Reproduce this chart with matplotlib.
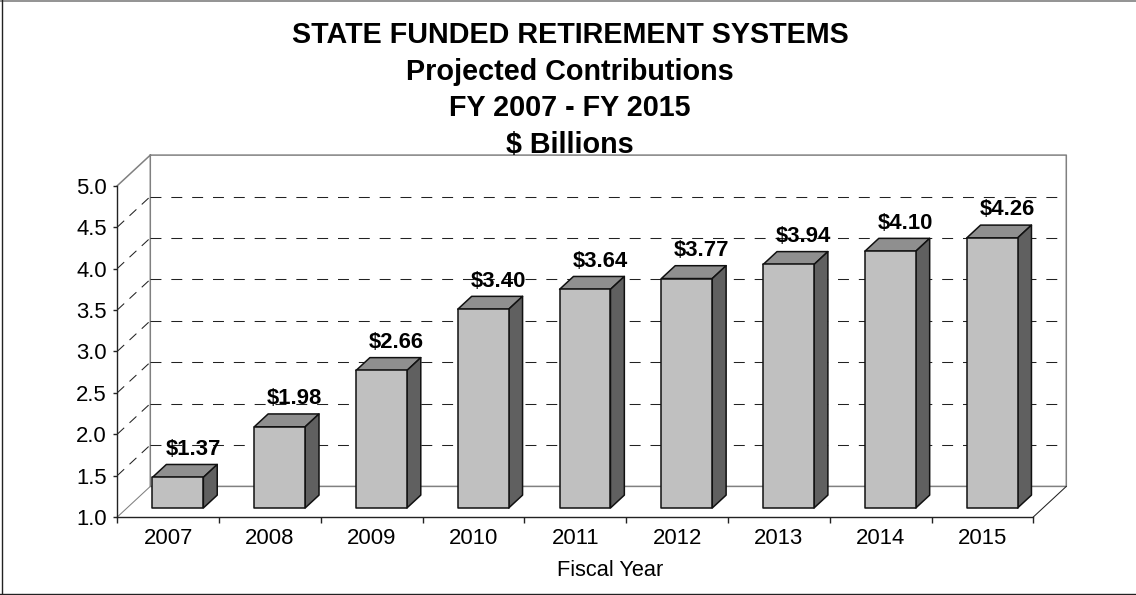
import matplotlib
matplotlib.use("Agg")
import matplotlib.pyplot as plt
from matplotlib.lines import Line2D
from matplotlib.patches import Polygon

years = ["2007", "2008", "2009", "2010", "2011", "2012", "2013", "2014", "2015"]
values = [1.37, 1.98, 2.66, 3.40, 3.64, 3.77, 3.94, 4.10, 4.26]
y_ticks = [1.0, 1.5, 2.0, 2.5, 3.0, 3.5, 4.0, 4.5, 5.0]
title_lines = ["STATE FUNDED RETIREMENT SYSTEMS", "Projected Contributions", "FY 2007 - FY 2015", "$ Billions"]
x_label = "Fiscal Year"

W, H = 1136, 595
plt.rcParams["font.family"] = ["Liberation Sans", "DejaVu Sans"]
fig = plt.figure(figsize=(W / 100, H / 100), dpi=100, facecolor="white")
L, R, T, B = 117.3, 1033.3, 185.7, 517.0
ax = fig.add_axes([L / W, 1 - B / H, (R - L) / W, (B - T) / H])
ax.set_xlim(0, 9)
ax.set_ylim(1, 5)
ax.patch.set_visible(False)

px_x = (R - L) / 9
px_y = (B - T) / 4
DX = 33 / px_x
DY = 30.6 / px_y


def p(cat, val, depth):
    return (cat + depth * DX, val + depth * DY)


WALL = "#808080"
LW = 0.75
DASH = (0, (10.5, 9.5))
# walls
ax.plot(*zip(p(0, 5, 0), p(0, 5, 1), p(9, 5, 1), p(9, 1, 1), p(0, 1, 1), p(0, 5, 1)),
        color=WALL, lw=1.1, clip_on=False, zorder=1)
ax.plot(*zip(p(0, 1, 0), p(0, 1, 1)), color=WALL, lw=LW, clip_on=False, zorder=1)
ax.plot(*zip(p(9, 1, 0), p(9, 1, 1)), color="#222222", lw=LW, clip_on=False, zorder=1)
# gridlines
for v in y_ticks[1:-1]:
    ax.plot(*zip(p(0, v, 1), p(9, v, 1)), color="#222222", lw=LW, ls=DASH, clip_on=False, zorder=1)
    ax.plot(*zip(p(0, v, 0), p(0, v, 1)), color="#222222", lw=LW, ls=(0, (9, 7)), clip_on=False, zorder=1)

# bars
bw = 0.5
d0, d1 = 0.295, 0.715
for i, v in enumerate(values):
    x0, x1 = i + 0.25, i + 0.25 + bw
    kw = dict(edgecolor="#111111", linewidth=1.1, joinstyle="round", clip_on=False, zorder=3)
    ax.add_patch(Polygon([p(x0, v, d0), p(x1, v, d0), p(x1, v, d1), p(x0, v, d1)], facecolor="#8F8F8F", **kw))
    ax.add_patch(Polygon([p(x1, 1, d0), p(x1, v, d0), p(x1, v, d1), p(x1, 1, d1)], facecolor="#606060", **kw))
    ax.add_patch(Polygon([p(x0, 1, d0), p(x1, 1, d0), p(x1, v, d0), p(x0, v, d0)], facecolor="#C0C0C0", **kw))
    ax.annotate(f"${v:.2f}", xy=p(i + 0.5, v, d0), xytext=(15, 28), textcoords="offset pixels",
                ha="center", va="center", fontsize=15.9, fontweight="bold", color="black", zorder=5,
                annotation_clip=False)

# axes
for s in ("top", "right"):
    ax.spines[s].set_visible(False)
for s in ("left", "bottom"):
    ax.spines[s].set_color("#222222")
    ax.spines[s].set_linewidth(1.0)
ax.set_yticks(y_ticks)
ax.set_yticklabels([f"{v:.1f}" for v in y_ticks], fontsize=15.9)
ax.set_xticks(range(10))
ax.set_xticklabels([])
ax.set_xticks([i + 0.5 for i in range(9)], years, minor=True, fontsize=15.9)
ax.tick_params(axis="y", length=3, width=1.0, color="#222222", pad=4.5)
ax.tick_params(axis="x", which="major", length=4, width=1.0, color="#222222")
ax.tick_params(axis="x", which="minor", length=0, pad=8)
ax.set_xlabel(x_label, fontsize=15.7)
ax.xaxis.set_label_coords(0.5376, -(570 - B) / (B - T), transform=ax.transAxes)
ax.xaxis.label.set_va("center")

fig.text(570 / W, 1 - 90 / H, "\n".join(title_lines), ha="center", va="center",
         fontsize=20.7, fontweight="bold", linespacing=1.38)
# chart frame: top, left and bottom edges only
fig.add_artist(Line2D([0, 1], [1 - 0.7 / H, 1 - 0.7 / H], transform=fig.transFigure, color="#808080", lw=1.2))
fig.add_artist(Line2D([1.6 / W, 1.6 / W], [1 - 594.3 / H, 1], transform=fig.transFigure, color="#222222", lw=1.0))
fig.add_artist(Line2D([0, 1], [1 - 594.3 / H, 1 - 594.3 / H], transform=fig.transFigure, color="#222222", lw=1.0))
fig.savefig("out.png", dpi=100)
